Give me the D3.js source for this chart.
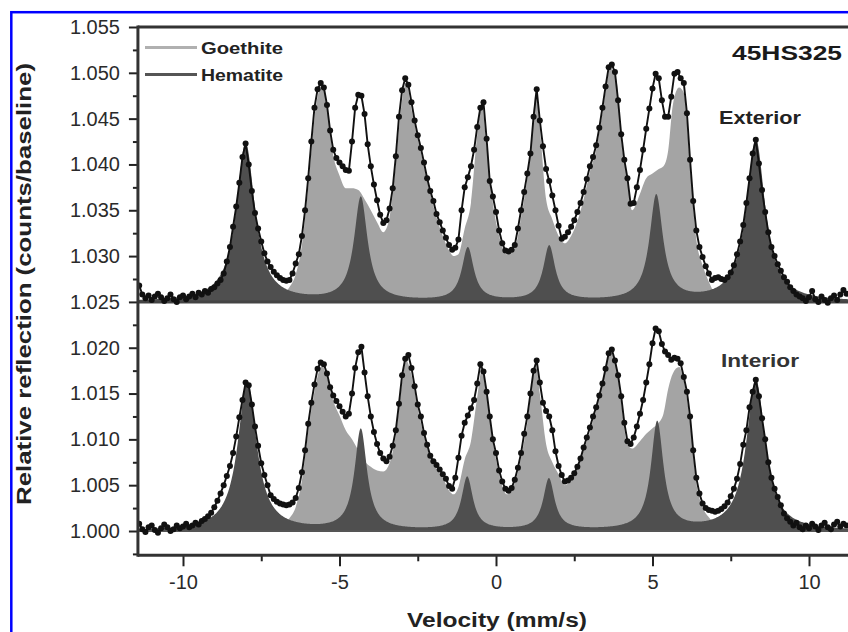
<!DOCTYPE html>
<html><head><meta charset="utf-8">
<script src="https://cdn.jsdelivr.net/npm/d3@7"></script>
<style>html,body{margin:0;padding:0;background:#fff;} svg{display:block;}</style>
</head><body><svg id="c" width="848" height="632"></svg>
<script>
// ---------- DATA ----------
// observed spectra: channel grid starts at -11.4 mm/s, step 0.1 mm/s
const velocityStart = -11.4;
const velocityStep = 0.1;

const exteriorObserved = [
 1.0268, 1.0258, 1.0254, 1.0257,
 1.0252, 1.0256, 1.0259, 1.0255, 1.0251, 1.0254, 1.0258, 1.0253, 1.0250, 1.0255,
 1.0257, 1.0253, 1.0256, 1.0259, 1.0255, 1.0260, 1.0258, 1.0262, 1.0260, 1.0264,
 1.0266, 1.0270, 1.0274, 1.0281, 1.0294, 1.0310, 1.0332, 1.0354, 1.0380, 1.0408,
 1.0423, 1.0400, 1.0371, 1.0347, 1.0330, 1.0316, 1.0303, 1.0294, 1.0288, 1.0283,
 1.0279, 1.0276, 1.0274, 1.0273, 1.0274, 1.0281, 1.0292, 1.0302, 1.0322, 1.0350,
 1.0385, 1.0425, 1.0462, 1.0482, 1.0489, 1.0484, 1.0465, 1.0437, 1.0416, 1.0407,
 1.0402, 1.0398, 1.0394, 1.0393, 1.0425, 1.0462, 1.0476, 1.0475, 1.0455, 1.0422,
 1.0398, 1.0378, 1.0361, 1.0345, 1.0336, 1.0339, 1.0352, 1.0374, 1.0409, 1.0452,
 1.0481, 1.0494, 1.0487, 1.0468, 1.0448, 1.0432, 1.0418, 1.0402, 1.0385, 1.0371,
 1.0360, 1.0346, 1.0337, 1.0328, 1.0320, 1.0312, 1.0307, 1.0309, 1.0318, 1.0350,
 1.0375, 1.0386, 1.0398, 1.0416, 1.0441, 1.0462, 1.0468, 1.0428, 1.0382, 1.0365,
 1.0348, 1.0328, 1.0314, 1.0306, 1.0305, 1.0307, 1.0312, 1.0330, 1.0350, 1.0370,
 1.0390, 1.0412, 1.0452, 1.0482, 1.0448, 1.0420, 1.0395, 1.0382, 1.0366, 1.0350,
 1.0333, 1.0319, 1.0321, 1.0326, 1.0332, 1.0339, 1.0348, 1.0358, 1.0370, 1.0384,
 1.0398, 1.0408, 1.0421, 1.0440, 1.0462, 1.0485, 1.0506, 1.0509, 1.0501, 1.0470,
 1.0433, 1.0405, 1.0385, 1.0357, 1.0358, 1.0375, 1.0394, 1.0416, 1.0439, 1.0461,
 1.0483, 1.0499, 1.0494, 1.0470, 1.0452, 1.0452, 1.0474, 1.0499, 1.0501, 1.0494,
 1.0489, 1.0456, 1.0405, 1.0360, 1.0328, 1.0310, 1.0299, 1.0289, 1.0281, 1.0274,
 1.0276, 1.0277, 1.0275, 1.0274, 1.0277, 1.0282, 1.0290, 1.0302, 1.0316, 1.0334,
 1.0358, 1.0385, 1.0412, 1.0427, 1.0401, 1.0372, 1.0348, 1.0326, 1.0310, 1.0300,
 1.0291, 1.0284, 1.0277, 1.0272, 1.0266, 1.0262, 1.0258, 1.0256, 1.0254, 1.0251,
 1.0255, 1.0262, 1.0253, 1.0250, 1.0256, 1.0252, 1.0249, 1.0254, 1.0257, 1.0252,
 1.0258, 1.0263, 1.0259
];

const interiorObserved = [
 1.0008, 1.0002, 0.9999, 1.0004,
 1.0006, 1.0001, 0.9998, 1.0003, 1.0007, 1.0004, 1.0000, 1.0002, 1.0006, 1.0003,
 1.0005, 1.0008, 1.0004, 1.0006, 1.0009, 1.0007, 1.0011, 1.0013, 1.0016, 1.0020,
 1.0026, 1.0033, 1.0041, 1.0050, 1.0060, 1.0071, 1.0085, 1.0103, 1.0124, 1.0143,
 1.0162, 1.0159, 1.0138, 1.0114, 1.0093, 1.0074, 1.0061, 1.0050, 1.0039, 1.0035,
 1.0032, 1.0030, 1.0029, 1.0028, 1.0029, 1.0031, 1.0036, 1.0047, 1.0064, 1.0088,
 1.0117, 1.0140, 1.0160, 1.0177, 1.0184, 1.0182, 1.0172, 1.0157, 1.0148, 1.0142,
 1.0136, 1.0130, 1.0125, 1.0128, 1.0150, 1.0178, 1.0195, 1.0201, 1.0173, 1.0147,
 1.0125, 1.0108, 1.0095, 1.0085, 1.0079, 1.0076, 1.0081, 1.0093, 1.0110, 1.0139,
 1.0170, 1.0188, 1.0192, 1.0178, 1.0158, 1.0138, 1.0125, 1.0107, 1.0094, 1.0082,
 1.0076, 1.0072, 1.0067, 1.0062, 1.0057, 1.0049, 1.0046, 1.0058, 1.0080, 1.0104,
 1.0118, 1.0126, 1.0134, 1.0143, 1.0161, 1.0182, 1.0174, 1.0152, 1.0125, 1.0100,
 1.0085, 1.0066, 1.0054, 1.0046, 1.0044, 1.0047, 1.0056, 1.0069, 1.0085, 1.0106,
 1.0125, 1.0150, 1.0175, 1.0186, 1.0162, 1.0140, 1.0131, 1.0125, 1.0110, 1.0087,
 1.0071, 1.0061, 1.0054, 1.0055, 1.0058, 1.0063, 1.0070, 1.0079, 1.0091, 1.0102,
 1.0113, 1.0125, 1.0135, 1.0148, 1.0161, 1.0177, 1.0194, 1.0198, 1.0186, 1.0170,
 1.0147, 1.0118, 1.0098, 1.0095, 1.0102, 1.0114, 1.0128, 1.0143, 1.0162, 1.0182,
 1.0205, 1.0221, 1.0218, 1.0204, 1.0196, 1.0192, 1.0187, 1.0189, 1.0188, 1.0183,
 1.0168, 1.0152, 1.0125, 1.0088, 1.0058, 1.0041, 1.0030, 1.0025, 1.0023, 1.0022,
 1.0021, 1.0022, 1.0024, 1.0027, 1.0031, 1.0038, 1.0046, 1.0057, 1.0073, 1.0094,
 1.0110, 1.0135, 1.0152, 1.0165, 1.0147, 1.0123, 1.0100, 1.0075, 1.0058, 1.0046,
 1.0037, 1.0028, 1.0019, 1.0014, 1.0010, 1.0006, 1.0009, 1.0004, 1.0002, 1.0006,
 1.0003, 1.0008, 1.0005, 1.0001, 1.0006, 1.0009, 1.0004, 1.0002, 1.0007, 1.0010,
 1.0005, 1.0008, 1.0006
];

// goethite fit component (upper edge of the light fill)
const goethiteVelocity = [-7.2,-7.0,-6.8,-6.6,-6.4,-6.2,-6.0,-5.8,-5.56,-5.4,-5.2,-5.0,-4.8,-4.6,-4.4,-4.2,-4.0,-3.8,-3.6,-3.4,-3.2,-3.0,-2.87,-2.7,-2.5,-2.3,-2.1,-1.9,-1.7,-1.5,-1.35,-1.2,-1.0,-0.8,-0.6,-0.45,-0.3,-0.1,0.1,0.35,0.6,0.8,1.0,1.15,1.27,1.4,1.6,1.8,2.0,2.2,2.4,2.6,2.8,3.0,3.2,3.4,3.66,3.85,4.0,4.2,4.35,4.6,4.8,5.0,5.2,5.35,5.5,5.65,5.85,6.0,6.2,6.4,6.6,6.8,7.0,7.2];
const exteriorGoethite = [1.0250,1.0253,1.0258,1.0266,1.0280,1.0312,1.0375,1.0450,1.0487,1.0462,1.0410,1.0388,1.0374,1.0374,1.0372,1.0362,1.0350,1.0337,1.0326,1.0342,1.0400,1.0470,1.0490,1.0460,1.0428,1.0398,1.0368,1.0342,1.0322,1.0306,1.0300,1.0302,1.0330,1.0358,1.0432,1.0464,1.0420,1.0358,1.0322,1.0302,1.0308,1.0342,1.0385,1.0428,1.0480,1.0440,1.0362,1.0340,1.0322,1.0314,1.0322,1.0338,1.0362,1.0392,1.0416,1.0456,1.0505,1.0492,1.0428,1.0382,1.0350,1.0368,1.0385,1.0390,1.0395,1.0398,1.0415,1.0465,1.0484,1.0478,1.0398,1.0318,1.0290,1.0272,1.0258,1.0251];
const interiorGoethite = [1.0002,1.0004,1.0008,1.0014,1.0026,1.0055,1.0108,1.0152,1.0180,1.0168,1.0142,1.0126,1.0110,1.0100,1.0088,1.0076,1.0070,1.0066,1.0065,1.0074,1.0105,1.0162,1.0186,1.0170,1.0134,1.0104,1.0080,1.0068,1.0058,1.0044,1.0040,1.0048,1.0078,1.0098,1.0146,1.0176,1.0148,1.0098,1.0062,1.0040,1.0052,1.0080,1.0118,1.0158,1.0182,1.0150,1.0095,1.0075,1.0062,1.0050,1.0055,1.0068,1.0088,1.0108,1.0133,1.0160,1.0194,1.0180,1.0140,1.0094,1.0090,1.0098,1.0106,1.0112,1.0118,1.0128,1.0155,1.0172,1.0179,1.0164,1.0118,1.0052,1.0026,1.0015,1.0008,1.0003];

// hematite sextet fit component: line positions (mm/s), heights, half widths (mm/s)
const exteriorHematiteCenters = [-8.00, -4.32, -0.90, 1.70, 5.12, 8.30];
const exteriorHematiteHeights = [0.0173, 0.0113, 0.0058, 0.0060, 0.0115, 0.0177];
const exteriorHematiteWidths  = [0.36, 0.26, 0.23, 0.23, 0.26, 0.36];
const interiorHematiteCenters = [-7.95, -4.32, -0.92, 1.69, 5.15, 8.30];
const interiorHematiteHeights = [0.0163, 0.0110, 0.0058, 0.0056, 0.0118, 0.0165];
const interiorHematiteWidths  = [0.36, 0.24, 0.22, 0.22, 0.24, 0.36];

const panelBaselines = [1.025, 1.000];
const panelLabels = ["Exterior", "Interior"];
const legendLabels = ["Goethite", "Hematite"];
const sampleLabel = "45HS325";
const yMajorTicks = [1.000, 1.005, 1.010, 1.015, 1.020, 1.025, 1.030, 1.035, 1.040, 1.045, 1.050, 1.055];
const yMinorTicks = [0.9975, 1.0025, 1.0075, 1.0125, 1.0175, 1.0225, 1.0275, 1.0325, 1.0375, 1.0425, 1.0475, 1.0525];
const xMajorTicks = [-10, -5, 0, 5, 10];
const xMinorTicks = [-7.5, -2.5, 2.5, 7.5];
const xTitle = "Velocity (mm/s)";
const yTitle = "Relative reflection (counts/baseline)";

// ---------- DRAW ----------
const FONT = "'Liberation Sans', Arial, Helvetica, sans-serif";
const colGoethite = "#a4a4a4", colHematite = "#4f4f4f";
const svg = d3.select("#c");
const x = d3.scaleLinear().domain([-10, 10]).range([183, 809]);
const y = d3.scaleLinear().domain([1.000, 1.055]).range([531, 27]);
const vLeft = -11.44, vRight = 11.6, yBottomVal = 0.99735;
const L = x(vLeft), R = x(vRight), T = y(1.055), B = y(yBottomVal);

svg.append("rect").attr("x", 0).attr("y", 0).attr("width", 848).attr("height", 632).attr("fill", "#fff");
svg.append("defs").append("clipPath").attr("id", "clip")
  .append("rect").attr("x", L).attr("y", T).attr("width", R - L).attr("height", B - T);

const plot = svg.append("g").attr("clip-path", "url(#clip)");

function sextet(centers, heights, widths, v) {
  let s = 0;
  for (let i = 0; i < centers.length; i++) {
    const u = (v - centers[i]) / widths[i];
    s += heights[i] / (1 + u * u);
  }
  return s;
}
const fineV = d3.range(vLeft, vRight, 0.02);

const panels = [
  {base: panelBaselines[0], obs: exteriorObserved, goe: exteriorGoethite,
   hc: exteriorHematiteCenters, hh: exteriorHematiteHeights, hw: exteriorHematiteWidths},
  {base: panelBaselines[1], obs: interiorObserved, goe: interiorGoethite,
   hc: interiorHematiteCenters, hh: interiorHematiteHeights, hw: interiorHematiteWidths}
];

panels.forEach(p => {
  const gData = goethiteVelocity.map((v, i) => ({v, val: p.goe[i]}));
  plot.append("path").datum(gData)
    .attr("fill", colGoethite)
    .attr("d", d3.area().curve(d3.curveMonotoneX).x(d => x(d.v)).y0(y(p.base)).y1(d => y(Math.max(p.base, d.val))));
  plot.append("path").datum(fineV)
    .attr("fill", colHematite)
    .attr("d", d3.area().x(v => x(v)).y0(y(p.base)).y1(v => y(p.base + sextet(p.hc, p.hh, p.hw, v))));
});

// baseline separators
plot.append("line").attr("x1", L).attr("x2", R).attr("y1", y(1.025)).attr("y2", y(1.025))
  .attr("stroke", "#444").attr("stroke-width", 3);
plot.append("line").attr("x1", L).attr("x2", R).attr("y1", y(1.000)).attr("y2", y(1.000))
  .attr("stroke", "#555").attr("stroke-width", 2);

// observed data
panels.forEach(p => {
  const pts = p.obs.map((val, i) => ({v: Math.round((velocityStart + i * velocityStep) * 10) / 10, val}));
  plot.append("path").datum(pts)
    .attr("fill", "none").attr("stroke", "#111").attr("stroke-width", 1.9)
    .attr("d", d3.line().x(d => x(d.v)).y(d => y(d.val)));
  plot.append("g").selectAll("circle").data(pts).join("circle")
    .attr("cx", d => x(d.v)).attr("cy", d => y(d.val)).attr("r", 3.0).attr("fill", "#111");
});

// axes
const yAxisMajor = d3.axisLeft(y).tickValues(yMajorTicks).tickSize(9).tickPadding(9).tickFormat(d3.format(".3f"));
const yAxisMinor = d3.axisLeft(y).tickValues(yMinorTicks).tickSize(5).tickFormat("");
const xAxisMajor = d3.axisBottom(x).tickValues(xMajorTicks).tickSize(11).tickPadding(9).tickFormat(d => String(d));
const xAxisMinor = d3.axisBottom(x).tickValues(xMinorTicks).tickSize(6).tickFormat("");

function styleAxis(g) {
  g.select(".domain").remove();
  g.selectAll(".tick line").attr("stroke", "#222").attr("stroke-width", 2);
  g.selectAll(".tick text").attr("fill", "#2a2a2a").style("font-family", FONT).style("font-size", "20px");
}
svg.append("g").attr("transform", `translate(${L},0)`).call(yAxisMajor).call(styleAxis)
  .selectAll(".tick text").attr("textLength", 50).attr("lengthAdjust", "spacingAndGlyphs");
svg.append("g").attr("transform", `translate(${L},0)`).call(yAxisMinor).call(styleAxis);
svg.append("g").attr("transform", `translate(0,${B})`).call(xAxisMajor).call(styleAxis);
svg.append("g").attr("transform", `translate(0,${B})`).call(xAxisMinor).call(styleAxis);

// frame lines
svg.append("line").attr("x1", L).attr("x2", L).attr("y1", T - 1.5).attr("y2", B + 1.5).attr("stroke", "#333").attr("stroke-width", 3);
svg.append("line").attr("x1", L).attr("x2", 860).attr("y1", T).attr("y2", T).attr("stroke", "#333").attr("stroke-width", 3);
svg.append("line").attr("x1", L).attr("x2", 860).attr("y1", B).attr("y2", B).attr("stroke", "#333").attr("stroke-width", 3);

// axis titles
svg.append("text").attr("x", 497).attr("y", 627).attr("text-anchor", "middle")
  .attr("textLength", 180).attr("lengthAdjust", "spacingAndGlyphs")
  .style("font-family", FONT).style("font-size", "20px").style("font-weight", "bold").attr("fill", "#222")
  .text(xTitle);
svg.append("text").attr("transform", "translate(31,284) rotate(-90)").attr("text-anchor", "middle")
  .attr("textLength", 442).attr("lengthAdjust", "spacingAndGlyphs")
  .style("font-family", FONT).style("font-size", "20px").style("font-weight", "bold").attr("fill", "#222")
  .text(yTitle);

// legend
const legendY = [47.5, 74.5];
const legendCol = ["#b0b0b0", "#555"];
legendLabels.forEach((lab, i) => {
  svg.append("line").attr("x1", 145).attr("x2", 197).attr("y1", legendY[i]).attr("y2", legendY[i])
    .attr("stroke", legendCol[i]).attr("stroke-width", 3);
  svg.append("text").attr("x", 201).attr("y", legendY[i] + 6).attr("textLength", 82).attr("lengthAdjust", "spacingAndGlyphs")
    .style("font-family", FONT).style("font-size", "16px").style("font-weight", "bold").attr("fill", "#222").text(lab);
});

// labels
svg.append("text").attr("x", 732).attr("y", 60).attr("textLength", 110).attr("lengthAdjust", "spacingAndGlyphs")
  .style("font-family", FONT).style("font-size", "21px").style("font-weight", "bold").attr("fill", "#1a1a1a").text(sampleLabel);
svg.append("text").attr("x", 719).attr("y", 124).attr("textLength", 82).attr("lengthAdjust", "spacingAndGlyphs")
  .style("font-family", FONT).style("font-size", "18px").style("font-weight", "bold").attr("fill", "#222").text(panelLabels[0]);
svg.append("text").attr("x", 721).attr("y", 367).attr("textLength", 78).attr("lengthAdjust", "spacingAndGlyphs")
  .style("font-family", FONT).style("font-size", "18px").style("font-weight", "600").attr("fill", "#333").text(panelLabels[1]);

// outer blue frame
svg.append("rect").attr("x", 11.3).attr("y", 12.2).attr("width", 900).attr("height", 700)
  .attr("fill", "none").attr("stroke", "#0000ff").attr("stroke-width", 2.5);
</script></body></html>
